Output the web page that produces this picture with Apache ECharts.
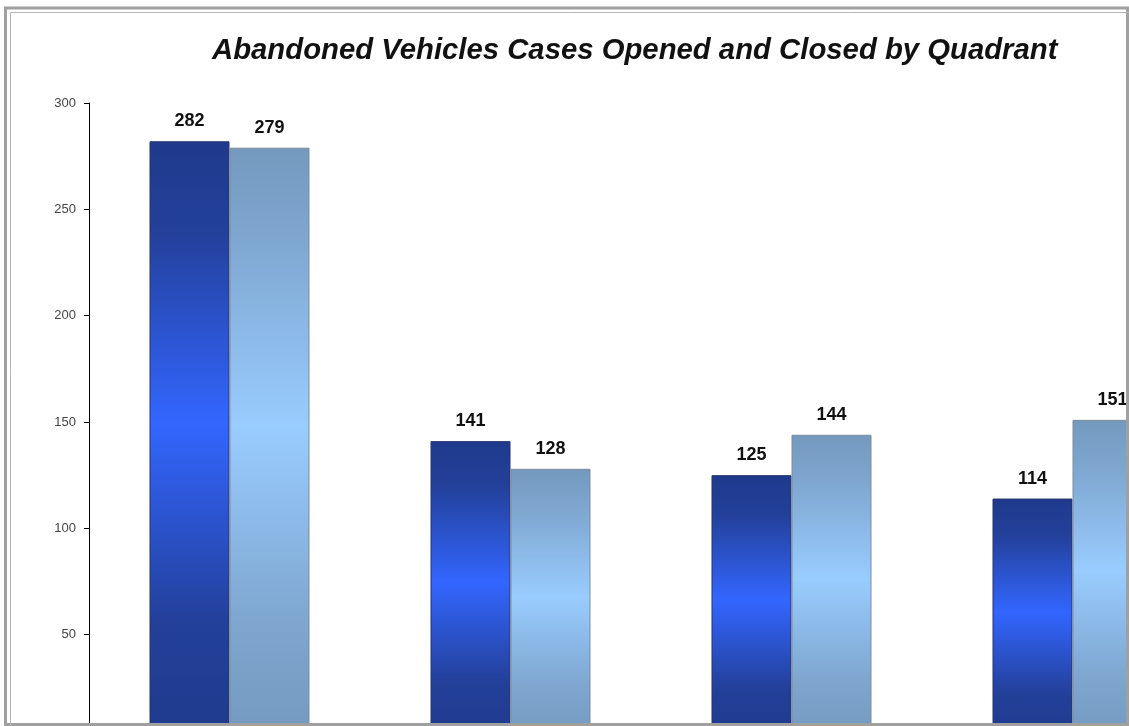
<!DOCTYPE html>
<html lang="en">

<head>
  <meta charset="UTF-8">
  <title>Abandoned Vehicles Cases</title>
  <script src="https://cdn.jsdelivr.net/npm/echarts@6/dist/echarts.min.js"></script>
  <style>
    html, body { margin: 0; padding: 0; overflow: hidden; background: #fff; }
  </style>
</head>

<body>
  <div id="chart" style="width: 1240px; height: 760px;"></div>

  <script>
    // data (note: "closed" is a reserved window property, so use other names)
    var quadrants = ['NE', 'NW', 'SE', 'SW'];
    var openedCases = [282, 141, 125, 114];
    var closedCases = [279, 128, 144, 151];
    var yTicks = [0, 50, 100, 150, 200, 250, 300];

    var myChart = echarts.init(document.getElementById('chart'));

    // vertical gradients like the old Excel bars
    function gradient(edge, mid, peak) {
      return {
        type: 'linear', x: 0, y: 0, x2: 0, y2: 1,
        colorStops: [
          { offset: 0, color: edge },
          { offset: 0.15, color: mid },
          { offset: 0.47, color: peak },
          { offset: 0.8, color: mid },
          { offset: 1, color: edge }
        ]
      };
    }

    function barLabel() {
      return {
        show: true,
        position: 'top',
        distance: 11,
        color: '#111',
        fontFamily: 'Arial, Liberation Sans, sans-serif',
        fontWeight: 'bold',
        fontSize: 18
      };
    }

    myChart.setOption({
      animation: false,
      title: {
        text: 'Abandoned Vehicles Cases Opened and Closed by Quadrant',
        left: 207,
        top: 31,
        textStyle: {
          fontFamily: 'Arial, Liberation Sans, sans-serif',
          fontStyle: 'italic',
          fontWeight: 'bold',
          fontSize: 29.3,
          color: '#111'
        }
      },
      graphic: [
        // frame of the screenshot
        { type: 'rect', shape: { x: 5.5, y: 8, width: 1122, height: 716.5 },
          style: { fill: 'none', stroke: '#a0a0a0', lineWidth: 3 }, z: 100 },
        { type: 'polyline', shape: { points: [[10.5, 726], [10.5, 12.5], [1129, 12.5]] },
          style: { fill: 'none', stroke: '#b4b4b4', lineWidth: 1 }, z: 100 }
      ],
      grid: {
        left: 89,
        top: 103,
        width: 1124,
        height: 638
      },
      xAxis: {
        type: 'category',
        data: quadrants,
        axisLine: { show: false },
        axisTick: { show: false },
        axisLabel: { show: false }
      },
      yAxis: {
        type: 'value',
        min: yTicks[0],
        max: yTicks[yTicks.length - 1],
        interval: 50,
        axisLine: { show: true, lineStyle: { color: '#000', width: 1 } },
        axisTick: { show: true, length: 5, lineStyle: { color: '#000' } },
        splitLine: { show: false },
        axisLabel: {
          margin: 13,
          color: '#444',
          fontFamily: 'Arial, Liberation Sans, sans-serif',
          fontSize: 13
        }
      },
      series: [
        {
          name: 'Opened',
          type: 'bar',
          data: openedCases,
          barWidth: 80,
          barGap: '0%',
          itemStyle: { color: gradient('#1f3a8c', '#23409a', '#3366ff'), borderColor: '#24346e', borderWidth: 1 },
          label: barLabel()
        },
        {
          name: 'Closed',
          type: 'bar',
          data: closedCases,
          barWidth: 80,
          barGap: '0%',
          itemStyle: { color: gradient('#7399be', '#7ea6cf', '#99ccff'), borderColor: '#7f8c99', borderWidth: 1 },
          label: barLabel()
        }
      ]
    });
  </script>
</body>

</html>
